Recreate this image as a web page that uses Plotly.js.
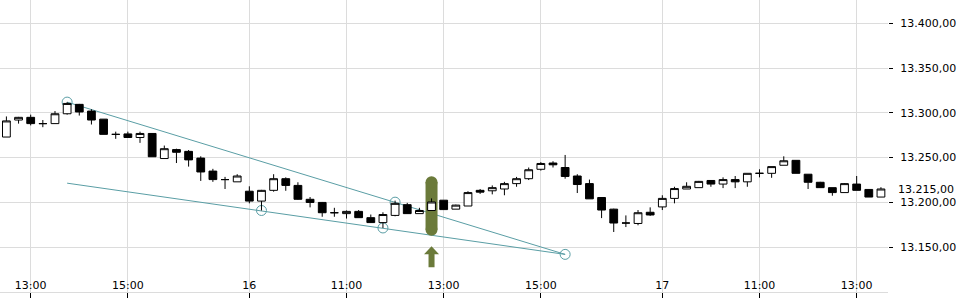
<!DOCTYPE html>
<html><head><meta charset="utf-8">
<script src="https://cdn.plot.ly/plotly-3.0.1.min.js"></script>
<style>html,body{margin:0;padding:0;background:#fff}#chart{width:960px;height:300px}</style>
</head><body><div id="chart"></div>
<script>
// 15-minute candles, index 0 = 15th 12:30 ... index 72 = 17th 13:30
const opens  = [13273,13292,13295,13288,13288,13299,13309.5,13302,13293,13276,13276.5,13272.5,13277,13249,13259,13257,13249.5,13235,13225.5,13223,
  13212.5,13201.5,13213.5,13226.5,13219,13203.5,13200,13188.5,13187.5,13190,13183,13177.5,13185.5,13197.5,13187.5,13191,13202.5,13192.5,13196,13213.5,
  13213,13215,13221,13226.5,13237,13244,13239,13229.5,13221,13205.5,13192.5,13177,13176.5,13189,
  13195,13204.5,13215,13216.5,13224.5,13220.5,13225.5,13223,13232.5,13232.5,13241.5,13247,13231.5,13222.5,13216.5,13211,13220.5,13214.5,13206];
const highs  = [13296,13295.5,13298,13292,13302,13312,13310,13304,13293,13279,13279,13279,13277,13263.5,13260,13258.5,13251.5,13237.5,13228.5,13231.5,
  13218,13214,13231.5,13228,13222.5,13206,13200.5,13194,13191,13191.5,13186.5,13189,13202,13199.5,13194,13204.5,13202.5,13197.5,13212.5,13215,
  13219,13223,13228.5,13239,13245,13246,13253,13231.5,13225.5,13206,13193,13185.5,13191.5,13194.5,
  13208,13217.5,13222.5,13224,13224.5,13228,13229.5,13232.5,13237,13240,13251.5,13247,13231.5,13223,13216.5,13221.5,13229.5,13214.5,13217];
const lows   = [13273,13288,13286,13284,13288,13298,13297,13287,13276,13271,13272.5,13266.5,13251,13249,13244,13240,13224,13223,13215,13223,
  13199,13191,13212,13213,13203,13194.5,13184,13184,13182,13183,13177.5,13171.5,13184.5,13187.5,13187.5,13191,13192,13192.5,13196,13209.5,
  13209,13208,13217.5,13225,13235.5,13239,13226.5,13210.5,13204,13182.5,13167,13172.5,13174.5,13185,
  13191.5,13199,13215,13216.5,13217.5,13216,13216,13217.5,13228,13227.5,13241.5,13232.5,13215,13216.5,13207.5,13211,13213.5,13206,13206];
const closes = [13291,13295,13288,13288,13299,13310.5,13301,13292,13276,13276,13272.5,13277,13251,13260,13256,13247.5,13234,13225.5,13225.5,13229.5,
  13201.5,13213.5,13226.5,13219,13203.5,13200,13188.5,13188.5,13190,13183,13177.5,13186.5,13199,13187.5,13191,13200.5,13192,13197,13211,13211.5,
  13216.5,13221,13226.5,13236.5,13243.5,13242,13229,13220,13204,13191.5,13177,13177,13188.5,13186,
  13204.5,13215.5,13218,13223.5,13220.5,13225.5,13223,13232.5,13232.5,13240,13246.5,13232.5,13222.5,13216.5,13211,13221,13213.5,13206,13215];

const tickIdx  = [2, 10, 20, 28, 36, 44, 54, 62, 70];
const tickText = ['13:00', '15:00', '16', '11:00', '13:00', '15:00', '17', '11:00', '13:00'];

// trend lines (candle index, price)
const upperX = [5, 46], upperY = [13312, 13142];
const lowerX = [5, 46], lowerY = [13221.5, 13142];
const pivotX = [5, 21, 31, 32, 46];
const pivotY = [13312, 13191, 13171.5, 13200.3, 13142];

// signal marker
const signalX = 35;
const pillY = [13222.5, 13169.5];
const arrowTip = 13151;
const lastPrice = 13215;

const idx = opens.map((_, i) => i);
const teal = '#5a9ea5';
const olive = '#6b7a3a';
const font = {family: 'DejaVu Sans', size: 11, color: '#000'};
const xr = [-0.527, 72.58], yr = [13100, 13426];

const traces = [
  {type: 'scatter', mode: 'lines', x: upperX, y: upperY, line: {color: teal, width: 1}, hoverinfo: 'skip'},
  {type: 'scatter', mode: 'lines', x: lowerX, y: lowerY, line: {color: teal, width: 1}, hoverinfo: 'skip'},
  {type: 'scatter', mode: 'markers', x: pivotX, y: pivotY, marker: {symbol: 'circle-open', size: 10, color: teal, line: {width: 1, color: teal}}, hoverinfo: 'skip'},
  {type: 'scatter', mode: 'lines+markers', x: [signalX, signalX], y: pillY, line: {color: olive, width: 12}, marker: {size: 12, color: olive}, hoverinfo: 'skip'},
  {type: 'candlestick', x: idx, open: opens, high: highs, low: lows, close: closes, xaxis: 'x2', yaxis: 'y2',
    increasing: {line: {color: '#000', width: 1}, fillcolor: '#fff'},
    decreasing: {line: {color: '#000', width: 1}, fillcolor: '#000'},
    whiskerwidth: 0, hoverinfo: 'skip'}
];

const layout = {
  width: 960, height: 300,
  margin: {l: 0, r: 72, t: 0, b: 8},
  paper_bgcolor: '#fff', plot_bgcolor: '#fff',
  showlegend: false,
  separators: ',.',
  font: font,
  boxgap: 0.36, boxgroupgap: 0,
  xaxis: {range: xr, tickvals: tickIdx, ticktext: tickText, showgrid: true, gridcolor: '#dcdcdc', gridwidth: 1,
    ticks: 'outside', ticklen: 5, tickcolor: '#000', ticklabelposition: 'inside', showline: true, linecolor: '#dcdcdc',
    zeroline: false, tickfont: font, rangeslider: {visible: false}, fixedrange: true},
  yaxis: {range: yr, side: 'right', tick0: 13100, dtick: 50, tickformat: ',.2f', showgrid: true, gridcolor: '#dcdcdc',
    ticks: 'outside', ticklen: 4, tickcolor: '#000', ticklabelstandoff: 5, showline: false, zeroline: false, tickfont: font, fixedrange: true},
  xaxis2: {range: xr, overlaying: 'x', visible: false, rangeslider: {visible: false}, fixedrange: true},
  yaxis2: {range: yr, overlaying: 'y', visible: false, fixedrange: true},
  shapes: [{
    type: 'path', xref: 'x', yref: 'y', xsizemode: 'pixel', ysizemode: 'pixel',
    xanchor: signalX, yanchor: arrowTip,
    path: 'M0,0 L7.5,-8 L3,-8 L3,-21 L-3,-21 L-3,-8 L-7.5,-8 Z',
    fillcolor: olive, line: {width: 0}
  }],
  annotations: [{
    xref: 'paper', x: 1, xanchor: 'left', xshift: 8, yref: 'y', y: lastPrice, yanchor: 'middle', yshift: -1,
    text: lastPrice.toLocaleString('de-DE', {minimumFractionDigits: 2, maximumFractionDigits: 2}),
    showarrow: false, font: font
  }]
};

Plotly.newPlot('chart', traces, layout, {displayModeBar: false, staticPlot: true});
</script></body></html>
